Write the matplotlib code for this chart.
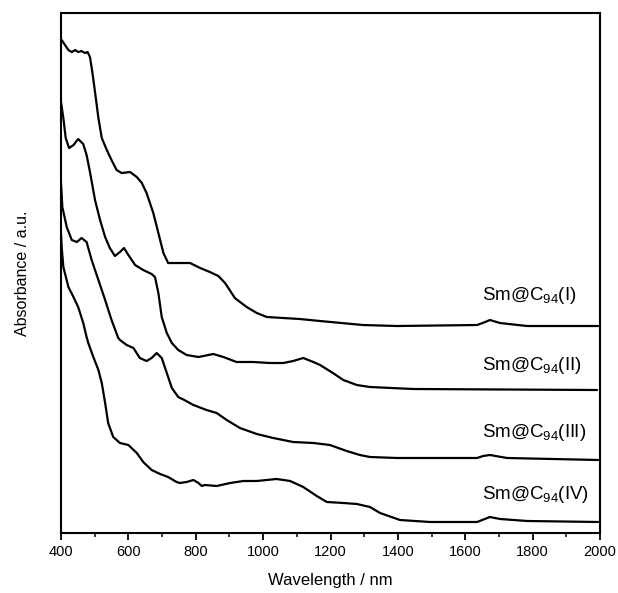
import matplotlib
matplotlib.use("Agg")
import matplotlib.pyplot as plt
from matplotlib.ticker import MultipleLocator

plt.rcParams['font.family'] = ['Liberation Sans', 'DejaVu Sans']
plt.rcParams['mathtext.fontset'] = 'custom'
plt.rcParams['mathtext.rm'] = 'Liberation Sans'
plt.rcParams['mathtext.it'] = 'Liberation Sans:italic'
plt.rcParams['mathtext.bf'] = 'Liberation Sans:bold'

# Wavelength (nm) and absorbance (a.u., vertically offset) for each isomer
wl_I = [402, 412, 422, 432, 442, 451, 461, 471, 479, 486, 493, 501, 511, 521, 536, 550,
        565, 580, 605, 625, 640, 654, 674, 689, 704, 718, 763, 783, 813, 842, 867, 887,
        916, 951, 981, 1011, 1060, 1109, 1169, 1296, 1397, 1635, 1659, 1673, 1703, 1783,
        1994]
ab_I = [4.93, 4.88, 4.83, 4.81, 4.83, 4.81, 4.82, 4.80, 4.81, 4.76, 4.61, 4.41, 4.15,
        3.95, 3.83, 3.73, 3.63, 3.60, 3.61, 3.56, 3.50, 3.40, 3.20, 3.00, 2.80, 2.70,
        2.70, 2.70, 2.65, 2.61, 2.57, 2.50, 2.35, 2.26, 2.20, 2.16, 2.15, 2.14, 2.12,
        2.08, 2.07, 2.08, 2.11, 2.13, 2.10, 2.07, 2.07]

wl_II = [400, 407, 414, 424, 437, 451, 466, 476, 486, 501, 516, 531, 545, 560, 575, 587,
         600, 620, 644, 669, 679, 689, 699, 714, 729, 748, 773, 808, 852, 882, 921, 971,
         1020, 1060, 1089, 1119, 1149, 1169, 1207, 1238, 1278, 1317, 1445, 1991]
ab_II = [4.31, 4.15, 3.95, 3.85, 3.88, 3.94, 3.89, 3.78, 3.61, 3.33, 3.13, 2.96, 2.85,
         2.77, 2.81, 2.85, 2.78, 2.68, 2.63, 2.59, 2.56, 2.40, 2.16, 2.00, 1.90, 1.83,
         1.78, 1.76, 1.79, 1.76, 1.71, 1.71, 1.70, 1.70, 1.72, 1.75, 1.71, 1.68, 1.60,
         1.53, 1.48, 1.46, 1.44, 1.43]

wl_III = [400, 404, 417, 432, 447, 461, 476, 491, 511, 531, 550, 570, 575, 595, 615, 634,
          654, 669, 684, 699, 714, 729, 748, 766, 793, 832, 862, 892, 931, 981, 1030,
          1089, 1149, 1198, 1248, 1287, 1317, 1397, 1635, 1653, 1673, 1724, 1994]
ab_III = [3.50, 3.26, 3.06, 2.93, 2.91, 2.95, 2.91, 2.73, 2.53, 2.33, 2.13, 1.95, 1.93,
          1.88, 1.85, 1.75, 1.72, 1.75, 1.80, 1.75, 1.60, 1.45, 1.36, 1.33, 1.28, 1.23,
          1.20, 1.13, 1.05, 0.99, 0.95, 0.91, 0.90, 0.88, 0.82, 0.78, 0.76, 0.75, 0.75,
          0.77, 0.78, 0.75, 0.73]

wl_IV = [400, 402, 407, 422, 437, 451, 466, 476, 481, 496, 511, 521, 531, 540, 555, 575,
         600, 625, 644, 669, 694, 718, 743, 753, 773, 793, 808, 818, 827, 862, 902, 941,
         981, 1040, 1080, 1119, 1159, 1189, 1238, 1278, 1317, 1347, 1406, 1495, 1635,
         1673, 1703, 1783, 1994]
ab_IV = [3.00, 2.86, 2.66, 2.46, 2.36, 2.26, 2.10, 1.96, 1.90, 1.76, 1.63, 1.50, 1.30,
         1.10, 0.96, 0.90, 0.88, 0.80, 0.71, 0.63, 0.59, 0.56, 0.51, 0.50, 0.51, 0.53,
         0.50, 0.47, 0.48, 0.47, 0.50, 0.52, 0.52, 0.54, 0.52, 0.46, 0.37, 0.31, 0.30,
         0.29, 0.26, 0.20, 0.13, 0.11, 0.11, 0.16, 0.14, 0.12, 0.11]

labels = ['Sm@C$_{94}$(I)', 'Sm@C$_{94}$(II)', 'Sm@C$_{94}$(III)', 'Sm@C$_{94}$(IV)']
label_y = [2.38, 1.68, 1.00, 0.38]
label_x = 1650

fig = plt.figure(figsize=(6.18, 5.93), dpi=100)
ax = fig.add_axes([0.0987, 0.1012, 0.8723, 0.8768])

for wl, ab in [(wl_I, ab_I), (wl_II, ab_II), (wl_III, ab_III), (wl_IV, ab_IV)]:
    ax.plot(wl, ab, color='black', lw=1.6, solid_joinstyle='round',
            solid_capstyle='round')

for lab, y in zip(labels, label_y):
    ax.text(label_x, y, lab, fontsize=13.5, ha='left', va='center')

ax.set_xlim(400, 2000)
ax.set_ylim(0, 5.2)
ax.xaxis.set_major_locator(MultipleLocator(200))
ax.xaxis.set_minor_locator(MultipleLocator(100))
ax.set_yticks([])
ax.tick_params(axis='x', which='major', direction='out', length=5, width=1.3,
               labelsize=10.5, top=False)
ax.tick_params(axis='x', which='minor', direction='out', length=3, width=1.1, top=False)
for sp in ax.spines.values():
    sp.set_linewidth(1.5)

ax.set_xlabel('Wavelength / nm', fontsize=12, labelpad=10)
ax.set_ylabel('Absorbance / a.u.', fontsize=11.5, labelpad=22)

fig.savefig('out.png', dpi=100)
